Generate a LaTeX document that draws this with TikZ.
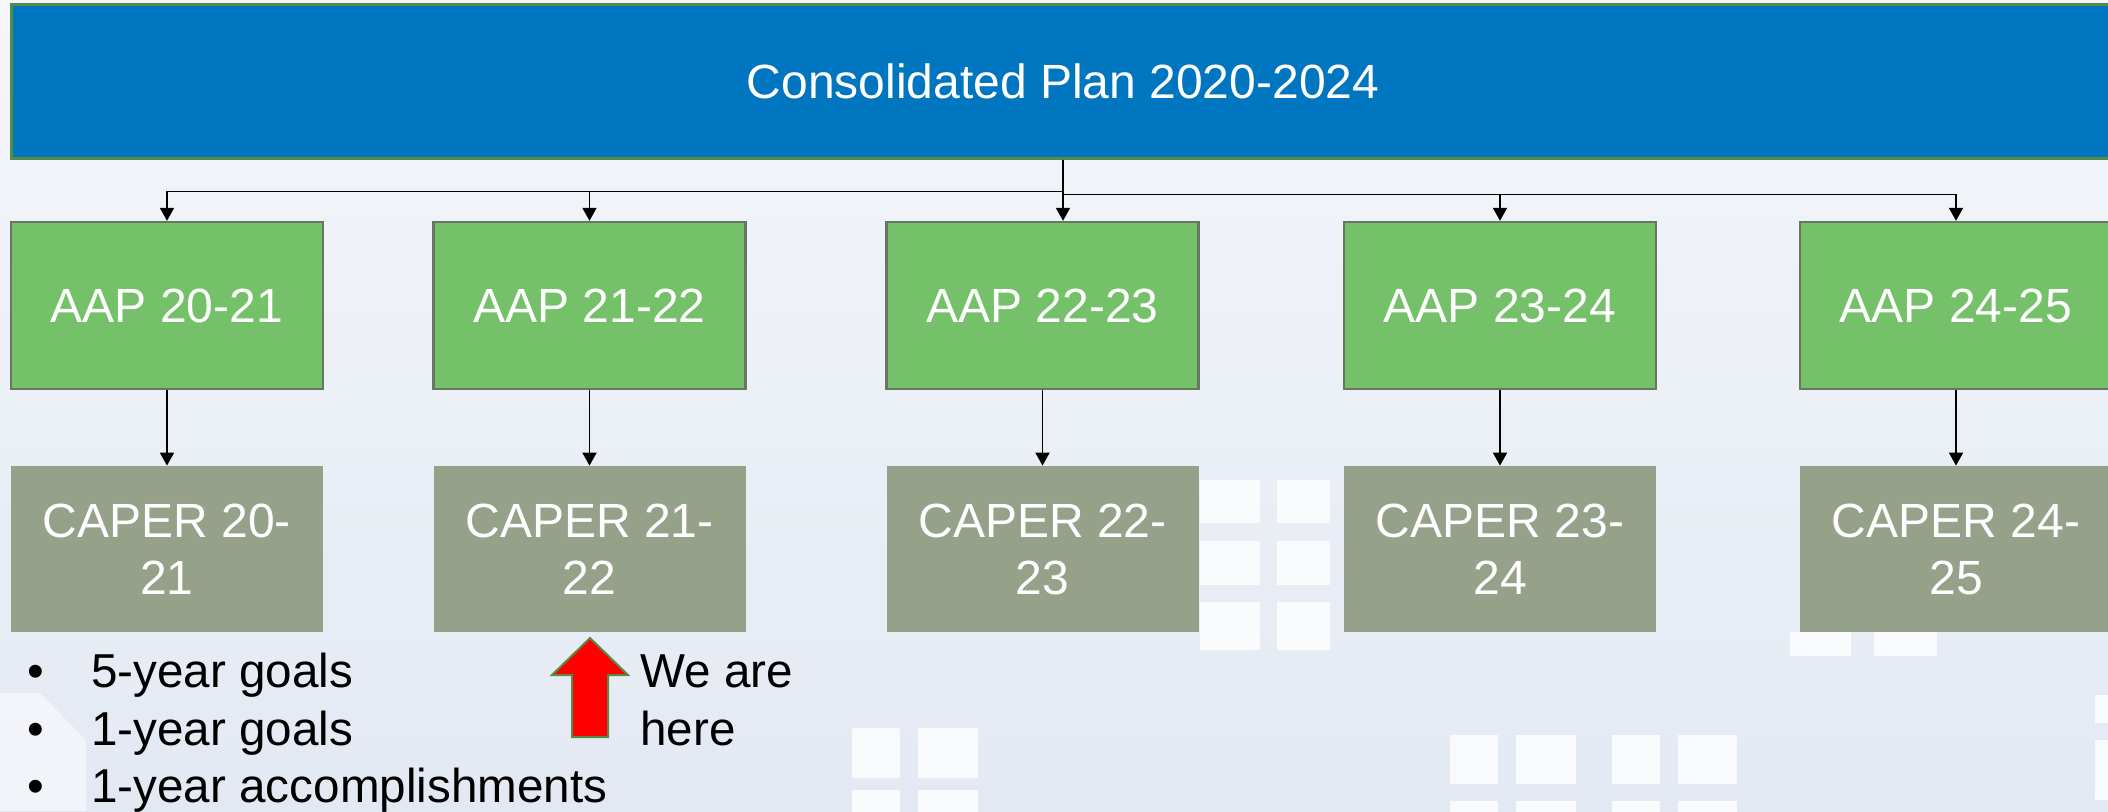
\documentclass[tikz,border=0pt]{standalone}
\usepackage{fontspec}
\setmainfont{Liberation Sans}
\usetikzlibrary{arrows.meta}
\definecolor{planblue}{RGB}{0,118,192}
\definecolor{planedge}{RGB}{84,140,70}
\definecolor{aapgreen}{RGB}{116,193,106}
\definecolor{aapedge}{RGB}{105,118,98}
\definecolor{capergrey}{RGB}{150,161,138}
\definecolor{bgtop}{RGB}{244,246,250}
\definecolor{bgbot}{RGB}{227,233,243}
\definecolor{redarrowedge}{RGB}{84,140,70}
\begin{document}
\begin{tikzpicture}[x=0.5pt,y=-0.5pt,
  box/.style={rectangle, inner sep=0pt, align=center, text=white,
    font=\fontsize{24}{28.5}\selectfont},
  planbox/.style={box, fill=planblue, draw=planedge, line width=1.5pt,
    minimum width=1052pt, minimum height=77pt},
  aapbox/.style={box, fill=aapgreen, draw=aapedge, line width=1.2pt,
    minimum width=156pt, minimum height=83.5pt},
  caperbox/.style={box, fill=capergrey, minimum width=156pt, minimum height=83pt},
  conn/.style={draw=black, line width=0.9pt, -{Triangle[length=6.5pt,width=7pt]}},
  listtext/.style={inner sep=0pt, anchor=base west, text=black,
    font=\fontsize{23.8}{29}\selectfont},
  win/.style={fill=white, draw=none, opacity=0.8}]
\useasboundingbox (0,0) rectangle (2108,811);
\clip (0,0) rectangle (2108,811);
% background
\shade[top color=bgtop, bottom color=bgbot] (0,0) rectangle (2108,811);
\fill[white, opacity=0.5] (0,693) -- (40,693) -- (86,740) -- (86,811) -- (0,811) -- cycle;
\foreach \xa/\xb in {1200/1260,1277/1330}{
  \foreach \ya/\yb in {480/523,541/585,602/650}{
    \fill[win] (\xa,\ya) rectangle (\xb,\yb);}}
\foreach \xa/\xb in {852/900,918/978}{
  \foreach \ya/\yb in {728/778,790/815}{
    \fill[win] (\xa,\ya) rectangle (\xb,\yb);}}
\foreach \xa/\xb in {1450/1498,1516/1576,1612/1660,1678/1737}{
  \foreach \ya/\yb in {735/784,801/815}{
    \fill[win] (\xa,\ya) rectangle (\xb,\yb);}}
\foreach \xa/\xb in {1790/1851,1874/1937}{
  \fill[win] (\xa,632) rectangle (\xb,656);}
\fill[win] (2095,695) rectangle (2110,723);
\fill[win] (2095,740) rectangle (2110,800);
% nodes
\node[planbox] (plan) at (1063,81) {Consolidated Plan 2020-2024};
\node[aapbox] (aap1) at (167,305.5) {AAP 20-21};
\node[aapbox] (aap2) at (589.5,305.5) {AAP 21-22};
\node[aapbox] (aap3) at (1042.5,305.5) {AAP 22-23};
\node[aapbox] (aap4) at (1500,305.5) {AAP 23-24};
\node[aapbox] (aap5) at (1956,305.5) {AAP 24-25};
\node[caperbox] (cap1) at (167,549) {CAPER 20-\\21};
\node[caperbox] (cap2) at (589.5,549) {CAPER 21-\\22};
\node[caperbox] (cap3) at (1042.5,549) {CAPER 22-\\23};
\node[caperbox] (cap4) at (1500,549) {CAPER 23-\\24};
\node[caperbox] (cap5) at (1956,549) {CAPER 24-\\25};
% connectors
\draw[conn] (plan.south) -- ++(0,32) -| (aap1.north);
\draw[conn] (plan.south) -- ++(0,32) -| (aap2.north);
\draw[conn] (plan.south) -- (plan.south |- aap3.north);
\draw[conn] (plan.south) -- ++(0,35) -| (aap4.north);
\draw[conn] (plan.south) -- ++(0,35) -| (aap5.north);
\foreach \i in {1,...,5}{
  \draw[conn] (aap\i.south) -- (cap\i.north);}
% list
\node[listtext] (g1) at (27,687) {\makebox[32pt][l]{\textbullet}5-year goals};
\node[listtext] (g2) at (27,745) {\makebox[32pt][l]{\textbullet}1-year goals};
\node[listtext] (g3) at (27,802) {\makebox[32pt][l]{\textbullet}1-year accomplishments};
% we are here
\draw[fill=red, draw=redarrowedge, line width=1pt, line join=miter]
  (590,638) -- (628,675) -- (608,675) -- (608,737) -- (572,737) -- (572,675) -- (552,675) -- cycle;
\node[listtext] (we1) at (640,687) {We are};
\node[listtext] (we2) at (640,745) {here};
\end{tikzpicture}
\end{document}
